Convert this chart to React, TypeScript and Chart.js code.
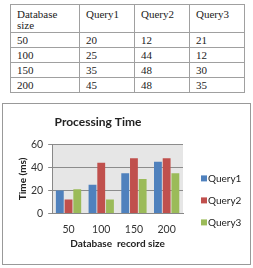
import React, { useEffect, useRef } from "react";
import { Chart, registerables } from "chart.js";

Chart.register(...registerables);

const categories = ["50", "100", "150", "200"];
const query1 = [20, 25, 35, 45];
const query2 = [12, 44, 48, 48];
const query3 = [21, 12, 30, 35];
const seriesNames = ["Query1", "Query2", "Query3"];
const colors = ["#4F81BD", "#C0504D", "#9BBB59"];
const tableHeader = ["Database size", "Query1", "Query2", "Query3"];
const FONT = "Lato";

const plotBg = {
  id: "plotBg",
  beforeDraw(chart: any) {
    const { ctx, chartArea, width, height } = chart;
    ctx.save();
    ctx.strokeStyle = "#999999";
    ctx.lineWidth = 1;
    ctx.strokeRect(0.5, 0.5, width - 1, height - 1);
    if (chartArea) {
      ctx.fillStyle = "#e6e6e6";
      ctx.fillRect(chartArea.left, chartArea.top, chartArea.right - chartArea.left, chartArea.bottom - chartArea.top);
    }
    ctx.restore();
  },
};

const sideLegend = {
  id: "sideLegend",
  afterDraw(chart: any) {
    const { ctx, chartArea } = chart;
    ctx.save();
    ctx.font = `10px ${FONT}`;
    ctx.textBaseline = "middle";
    chart.data.datasets.forEach((ds: any, i: number) => {
      const y = chartArea.top + 34 + i * 22;
      const x = chartArea.right + 18;
      ctx.fillStyle = ds.backgroundColor;
      ctx.fillRect(x, y - 3, 6, 6);
      ctx.fillStyle = "#222";
      ctx.fillText(ds.label, x + 7, y);
    });
    ctx.restore();
  },
};

export default function App() {
  const ref = useRef<HTMLCanvasElement>(null);
  useEffect(() => {
    let chart: any = null;
    let cancelled = false;
    const make = () => {
      if (cancelled || !ref.current) return;
      chart = new Chart(ref.current, {
        type: "bar",
        data: {
          labels: categories,
          datasets: [query1, query2, query3].map((d, i) => ({
            label: seriesNames[i],
            data: d,
            backgroundColor: colors[i],
          })),
        },
        options: {
          animation: false,
          responsive: false,
          layout: { padding: { left: 11, right: 68, top: 0, bottom: 12 } },
          plugins: {
            title: {
              display: true,
              text: "Processing Time",
              font: { family: FONT, size: 12, weight: "bold" },
              color: "#222",
              padding: { top: 12, bottom: 15 },
            },
            legend: { display: false },
            tooltip: { enabled: false },
          },
          scales: {
            x: {
              grid: { display: false, drawTicks: false },
              border: { color: "#888" },
              ticks: { font: { family: FONT, size: 10.5 }, color: "#333", padding: 9.5 },
              title: {
                display: true,
                text: "Database  record size",
                font: { family: FONT, size: 10, weight: "bold" },
                color: "#222",
                padding: { top: -7.5, bottom: 3.5 },
              },
            },
            y: {
              min: 0,
              max: 60,
              ticks: { stepSize: 20, font: { family: FONT, size: 10.5 }, color: "#333", padding: 5 },
              grid: { color: "#8c8c8c", tickLength: 4 },
              border: { color: "#888" },
              title: {
                display: true,
                text: "Time (ms)",
                font: { family: FONT, size: 10, weight: "bold" },
                color: "#222",
                padding: { top: 4, bottom: -3 },
              },
            },
          },
        },
        plugins: [plotBg, sideLegend],
      });
    };
    const fonts: any = (document as any).fonts;
    if (fonts && fonts.load) {
      Promise.all([fonts.load(`10px ${FONT}`), fonts.load(`bold 12px ${FONT}`)])
        .catch(() => {})
        .then(make);
    } else {
      make();
    }
    return () => {
      cancelled = true;
      if (chart) chart.destroy();
    };
  }, []);

  const rows = categories.map((c, i) => [c, query1[i], query2[i], query3[i]]);
  const rowHeights = [15, 14, 15, 13];
  const cell: React.CSSProperties = {
    border: "1px solid #a0a0a0",
    padding: "2px 6px 1px",
    verticalAlign: "top",
    textAlign: "left",
    fontWeight: "normal",
    lineHeight: "11px",
  };
  return (
    <div style={{ position: "fixed", left: 0, top: 0, width: 253, height: 268, background: "#fff", overflow: "hidden" }}>
      <table
        style={{
          position: "absolute",
          left: 10,
          top: 4,
          width: 234,
          borderCollapse: "collapse",
          fontFamily: "'Liberation Serif', serif",
          fontSize: 11,
          color: "#222",
          tableLayout: "fixed",
        }}
      >
        <colgroup>
          <col style={{ width: 69 }} />
          <col style={{ width: 55 }} />
          <col style={{ width: 55 }} />
          <col style={{ width: 55 }} />
        </colgroup>
        <thead>
          <tr style={{ height: 26 }}>
            {tableHeader.map((h) => (
              <th key={h} style={{ ...cell, paddingTop: 4 }}>{h}</th>
            ))}
          </tr>
        </thead>
        <tbody>
          {rows.map((r, i) => (
            <tr key={r[0]} style={{ height: rowHeights[i] }}>
              {r.map((v, j) => (
                <td key={j} style={cell}>{v}</td>
              ))}
            </tr>
          ))}
        </tbody>
      </table>
      <div style={{ position: "absolute", left: 2, top: 103, width: 249, height: 162 }}>
        <canvas ref={ref} width={249} height={162} style={{ display: "block" }} />
      </div>
    </div>
  );
}
